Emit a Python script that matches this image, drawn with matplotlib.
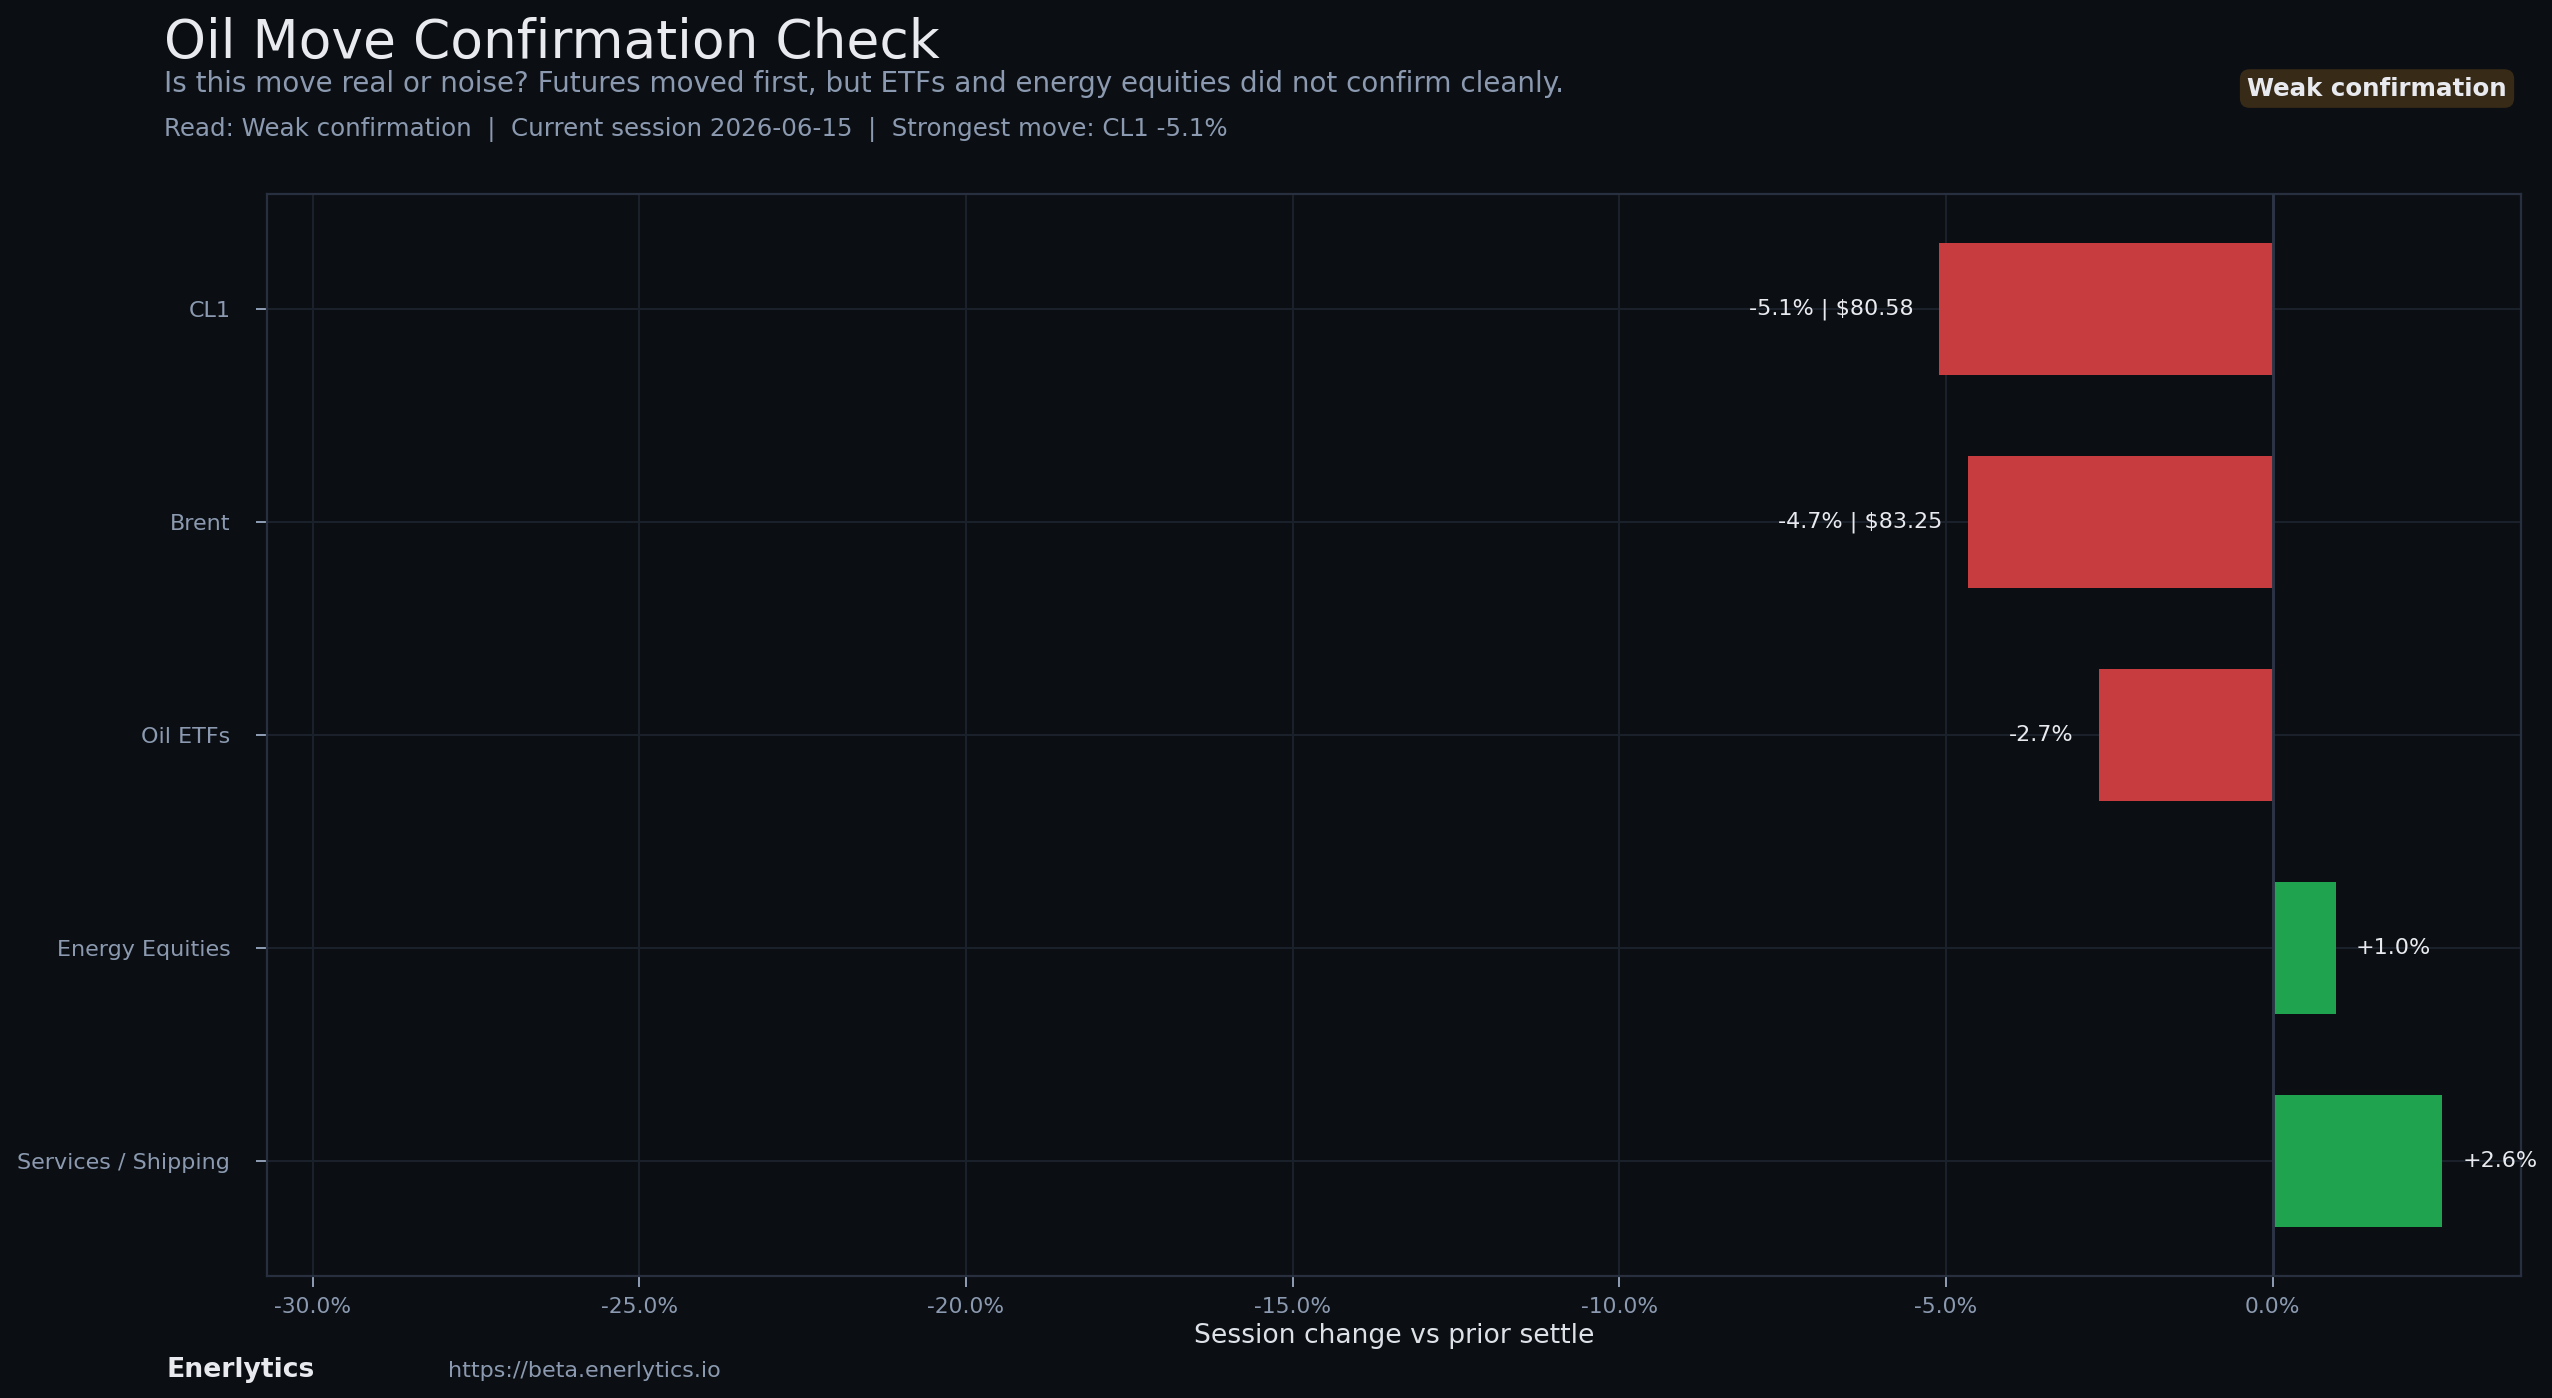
import matplotlib
matplotlib.use("Agg")
import matplotlib.pyplot as plt
from matplotlib.ticker import FuncFormatter

# data
categories = ["CL1", "Brent", "Oil ETFs", "Energy Equities", "Services / Shipping"]
changes = [-5.1, -4.66, -2.66, 0.97, 2.6]
prices = [80.58, 83.25, None, None, None]
x_ticks = [-30, -25, -20, -15, -10, -5, 0]

BG = "#0b0e13"
RED = "#c63c3f"
GREEN = "#1fa34f"
MUTED = "#8b9ab0"
TEXT = "#e8eaef"
GRID = "#1b212b"
SPINE = "#283040"

fig = plt.figure(figsize=(15.95, 8.739), dpi=160, facecolor=BG)
ax = fig.add_axes([0.1046, 0.0872, 0.8832, 0.7740], facecolor=BG)

y = list(range(len(categories)))
colors = [RED if v < 0 else GREEN for v in changes]
ax.barh(y, changes, height=0.62, color=colors, zorder=2)
ax.axvline(0, color="#2b3445", linewidth=1.3, zorder=3)

# bar labels
for yi, v, p in zip(y, changes, prices):
    lab = f"{v:+.1f}%" if v >= 0 else f"{v:.1f}%"
    if p is not None:
        lab += f" | ${p:.2f}"
    if v < 0:
        ax.annotate(lab, (v, yi), xytext=(-11.5, 0), textcoords="offset points",
                    ha="right", va="center", color=TEXT, fontsize=10, zorder=4)
    else:
        ax.annotate(lab, (v, yi), xytext=(9, 0), textcoords="offset points",
                    ha="left", va="center", color=TEXT, fontsize=10, zorder=4)

ax.set_yticks(y)
ax.set_yticklabels(categories)
ax.invert_yaxis()
ax.set_xticks(x_ticks)
ax.xaxis.set_major_formatter(FuncFormatter(lambda v, _: f"{v:.1f}%"))
ax.set_xlim(-30.7, 3.8)

ax.grid(True, color=GRID, linewidth=0.9, zorder=0)
ax.set_axisbelow(True)
for s in ax.spines.values():
    s.set_color(SPINE)
    s.set_linewidth(1.0)
ax.tick_params(colors=MUTED, labelsize=9.8, length=5, width=0.9)
ax.tick_params(axis="x", pad=4.5)
ax.tick_params(axis="y", labelsize=10, pad=11.5)
ax.set_xlabel("Session change vs prior settle", color="#dde1e8", fontsize=12, labelpad=2.5)

# header
fig.text(0.0643, 0.9585, "Oil Move Confirmation Check", color=TEXT, fontsize=24,
         va="baseline", ha="left")
fig.text(0.0643, 0.934,
         "Is this move real or noise? Futures moved first, but ETFs and energy equities did not confirm cleanly.",
         color=MUTED, fontsize=12.5, va="baseline", ha="left")
fig.text(0.0643, 0.9027,
         "Read: Weak confirmation  |  Current session 2026-06-15  |  Strongest move: CL1 -5.1%",
         color=MUTED, fontsize=11, va="baseline", ha="left")
fig.text(0.9823, 0.9365, "Weak confirmation", color=TEXT, fontsize=11, fontweight="bold",
         ha="right", va="center",
         bbox=dict(boxstyle="round,pad=0.3,rounding_size=0.4", facecolor="#372a17",
                   edgecolor="none"))

# footer
fig.text(0.0654, 0.015, "Enerlytics", color=TEXT, fontsize=12, fontweight="bold",
         va="baseline", ha="left")
fig.text(0.1754, 0.015, "https://beta.enerlytics.io", color=MUTED, fontsize=10,
         va="baseline", ha="left")

fig.savefig("out.png", dpi=160, facecolor=BG)
